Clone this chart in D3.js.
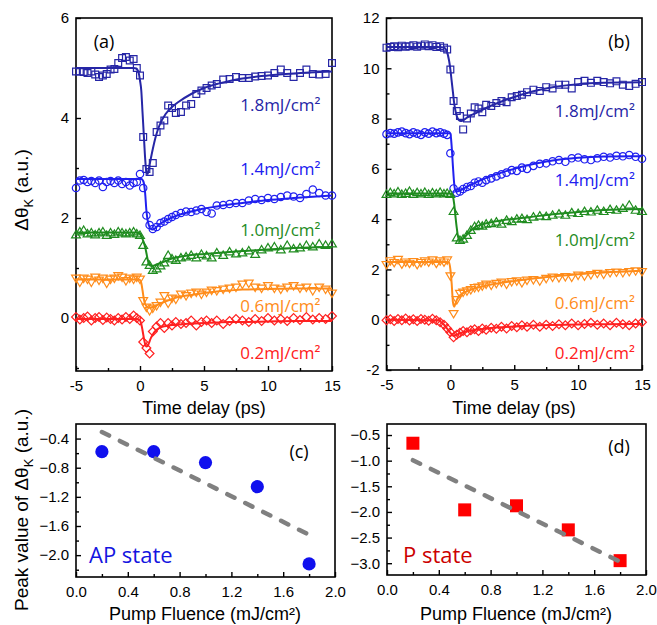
<!DOCTYPE html>
<html>
<head>
<meta charset="utf-8">
<script src="https://cdn.jsdelivr.net/npm/d3@7"></script>
<style>
  body { margin: 0; background: #fff; }
  svg { display: block; }
</style>
</head>
<body>
<script>
// time delay of the measured points (ps)
const timeDelay = [
  -5, -4.7, -4.4, -4.1, -3.8, -3.5, -3.2, -2.9, -2.6, -2.3,
  -2.0, -1.7, -1.4, -1.1, -0.8, -0.5, -0.25, 0, 0.25, 0.5,
  0.75, 1.0, 1.3, 1.6, 1.9, 2.2, 2.5, 2.8, 3.2, 3.6,
  4.0, 4.4, 4.8, 5.2, 5.6, 6.0, 6.5, 7.0, 7.5, 8.0,
  8.5, 9.0, 9.5, 10, 10.5, 11, 11.5, 12, 12.5, 13,
  13.5, 14, 14.5, 15];

// time delay of the fitted curves (ps)
const fitTime = [
  -5, -1, -0.5, -0.3, -0.1, 0, 0.1, 0.2, 0.3, 0.4,
  0.5, 0.6, 0.7, 0.8, 1.0, 1.2, 1.5, 2, 2.5, 3,
  4, 5, 6, 7, 8, 10, 12, 15];

const fluenceLabels = ["1.8mJ/cm²", "1.4mJ/cm²", "1.0mJ/cm²", "0.6mJ/cm²", "0.2mJ/cm²"];

// panel (a)
const a18 = [
  4.93, 4.93, 4.92, 4.90, 4.93, 4.87, 4.82, 4.85, 4.88, 4.97,
  4.98, 5.10, 5.20, 5.22, 5.15, 5.18, 5.00, 4.85, 3.62, 2.98,
  2.92, 3.10, 3.72, 3.85, 3.95, 4.25, 4.20, 4.10, 4.12, 4.25,
  4.28, 4.48, 4.55, 4.60, 4.65, 4.68, 4.77, 4.78, 4.82, 4.80,
  4.80, 4.83, 4.84, 4.85, 4.90, 4.97, 4.90, 4.82, 4.90, 4.97,
  4.88, 4.87, 4.88, 5.10];
const a14 = [
  2.60, 2.75, 2.76, 2.72, 2.74, 2.70, 2.75, 2.62, 2.72, 2.74,
  2.70, 2.75, 2.68, 2.72, 2.65, 2.70, 2.72, 2.88, 2.60, 2.05,
  1.86, 1.78, 1.82, 1.90, 1.93, 1.98, 2.02, 2.06, 2.10, 2.13,
  2.12, 2.15, 2.18, 2.12, 2.09, 2.25, 2.26, 2.28, 2.30, 2.30,
  2.35, 2.38, 2.36, 2.40, 2.38, 2.42, 2.45, 2.43, 2.40, 2.48,
  2.57, 2.50, 2.45, 2.45];
const a10 = [
  1.66, 1.72, 1.75, 1.68, 1.70, 1.66, 1.70, 1.72, 1.65, 1.70,
  1.67, 1.72, 1.70, 1.68, 1.70, 1.72, 1.68, 1.65, 1.45, 1.12,
  1.05, 0.95, 0.98, 1.04, 1.10, 1.25, 1.18, 1.15, 1.20, 1.22,
  1.25, 1.20, 1.27, 1.24, 1.20, 1.30, 1.25, 1.32, 1.28, 1.30,
  1.34, 1.27, 1.36, 1.40, 1.42, 1.36, 1.45, 1.38, 1.40, 1.45,
  1.42, 1.48, 1.45, 1.48];
const a06 = [
  0.80, 0.72, 0.80, 0.78, 0.72, 0.82, 0.76, 0.80, 0.70, 0.78,
  0.80, 0.85, 0.82, 0.75, 0.80, 0.78, 0.82, 0.78, 0.35, 0.22,
  0.15, 0.20, 0.25, 0.32, 0.45, 0.30, 0.40, 0.38, 0.48, 0.45,
  0.50, 0.52, 0.48, 0.52, 0.56, 0.55, 0.58, 0.60, 0.62, 0.68,
  0.70, 0.62, 0.60, 0.65, 0.60, 0.58, 0.62, 0.65, 0.60, 0.62,
  0.55, 0.62, 0.58, 0.50];
const a02 = [
  0.02, -0.03, 0.00, 0.03, -0.05, 0.00, 0.02, -0.04, 0.01, -0.02,
  -0.05, 0.00, -0.03, 0.02, -0.02, 0.05, 0.00, -0.05, -0.48, -0.60,
  -0.71, -0.27, -0.17, -0.10, -0.20, -0.10, -0.15, -0.08, -0.12, -0.10,
  -0.05, -0.15, -0.08, -0.05, -0.10, -0.05, -0.12, -0.06, -0.02, -0.05,
  -0.08, -0.02, -0.06, 0.00, -0.05, -0.02, -0.06, 0.00, -0.04, 0.02,
  -0.03, 0.00, -0.02, 0.04];

const aFit18 = [5.00, 5.00, 5.00, 4.99, 4.90, 4.75, 4.55, 4.10, 3.65, 3.20,
  2.92, 2.88, 3.00, 3.13, 3.38, 3.60, 3.84, 4.08, 4.22, 4.32,
  4.48, 4.60, 4.68, 4.74, 4.79, 4.85, 4.89, 4.93];
const aFit14 = [2.78, 2.78, 2.78, 2.78, 2.78, 2.78, 2.78, 2.76, 2.70, 2.50,
  2.15, 1.95, 1.85, 1.79, 1.77, 1.80, 1.87, 1.95, 2.01, 2.06,
  2.13, 2.19, 2.23, 2.27, 2.30, 2.36, 2.40, 2.45];
const aFit10 = [1.71, 1.71, 1.71, 1.71, 1.70, 1.69, 1.65, 1.58, 1.50, 1.42,
  1.30, 1.17, 1.08, 1.05, 1.04, 1.06, 1.09, 1.14, 1.19, 1.22,
  1.26, 1.28, 1.30, 1.32, 1.34, 1.37, 1.40, 1.42];
const aFit06 = [0.77, 0.77, 0.77, 0.77, 0.77, 0.76, 0.70, 0.55, 0.38, 0.28,
  0.24, 0.22, 0.21, 0.21, 0.22, 0.24, 0.28, 0.33, 0.38, 0.42,
  0.46, 0.50, 0.53, 0.55, 0.57, 0.58, 0.59, 0.59];
const aFit02 = [-0.02, -0.02, -0.02, -0.02, -0.03, -0.05, -0.12, -0.25, -0.40, -0.52,
  -0.57, -0.56, -0.50, -0.43, -0.33, -0.26, -0.20, -0.16, -0.14, -0.13,
  -0.11, -0.10, -0.09, -0.08, -0.08, -0.07, -0.06, -0.06];

// panel (b)
const b18 = [
  10.82, 10.85, 10.88, 10.84, 10.90, 10.86, 10.88, 10.92, 10.86, 10.90,
  10.95, 10.88, 10.92, 10.85, 10.88, 10.82, 10.75, 9.95, 8.70, 8.30,
  8.10, 7.57, 8.00, 8.20, 8.45, 8.40, 8.25, 8.55, 8.50, 8.62,
  8.70, 8.65, 8.85, 8.90, 8.95, 9.05, 9.15, 9.10, 9.25, 9.20,
  9.35, 9.35, 9.20, 9.45, 9.50, 9.42, 9.50, 9.45, 9.40, 9.48,
  9.35, 9.30, 9.38, 9.45];
const b14 = [
  7.38, 7.42, 7.40, 7.45, 7.48, 7.42, 7.38, 7.45, 7.40, 7.35,
  7.45, 7.40, 7.48, 7.42, 7.45, 7.40, 7.35, 6.62, 5.22, 5.05,
  5.10, 5.20, 5.28, 5.32, 5.45, 5.50, 5.45, 5.55, 5.62, 5.70,
  5.78, 5.85, 5.95, 5.92, 6.05, 6.00, 6.12, 6.20, 6.22, 6.30,
  6.35, 6.28, 6.42, 6.45, 6.38, 6.35, 6.42, 6.48, 6.45, 6.52,
  6.50, 6.55, 6.48, 6.40];
const b10 = [
  4.98, 5.05, 5.00, 5.08, 4.98, 5.02, 5.10, 4.98, 5.05, 5.00,
  5.06, 4.98, 5.04, 5.00, 5.06, 5.00, 5.02, 4.98, 4.30, 3.25,
  3.15, 3.20, 3.35, 3.55, 3.70, 3.75, 3.72, 3.80, 3.82, 3.88,
  3.80, 3.95, 3.90, 4.00, 4.02, 3.98, 4.08, 4.12, 4.10, 4.15,
  4.20, 4.15, 4.25, 4.22, 4.30, 4.28, 4.35, 4.30, 4.38, 4.35,
  4.42, 4.55, 4.35, 4.30];
const b06 = [
  2.20, 2.35, 2.28, 2.40, 2.22, 2.30, 2.25, 2.32, 2.20, 2.28,
  2.35, 2.30, 2.38, 2.25, 2.35, 2.30, 2.38, 1.75, 0.25, 0.80,
  1.05, 1.10, 1.15, 1.20, 1.28, 1.30, 1.35, 1.42, 1.38, 1.45,
  1.50, 1.42, 1.52, 1.55, 1.48, 1.58, 1.60, 1.55, 1.65, 1.70,
  1.68, 1.72, 1.70, 1.78, 1.75, 1.80, 1.85, 1.82, 1.88, 1.90,
  1.88, 1.92, 1.95, 1.92];
const b02 = [
  -0.02, 0.02, -0.05, 0.03, -0.02, 0.05, -0.03, 0.02, -0.05, 0.03,
  0.00, -0.04, 0.04, -0.02, -0.10, -0.20, -0.35, -0.50, -0.70, -0.60,
  -0.52, -0.45, -0.50, -0.42, -0.38, -0.45, -0.35, -0.40, -0.32, -0.36,
  -0.28, -0.35, -0.25, -0.30, -0.22, -0.28, -0.20, -0.28, -0.20, -0.25,
  -0.18, -0.22, -0.15, -0.22, -0.17, -0.12, -0.20, -0.15, -0.22, -0.12,
  -0.18, -0.22, -0.15, -0.10];

const bFit18 = [10.85, 10.85, 10.83, 10.70, 10.30, 9.95, 9.50, 9.05, 8.60, 8.30,
  8.10, 7.98, 7.92, 7.90, 7.93, 8.00, 8.10, 8.22, 8.35, 8.47,
  8.68, 8.86, 9.02, 9.15, 9.25, 9.37, 9.42, 9.44];
const bFit14 = [7.42, 7.42, 7.42, 7.42, 7.42, 7.40, 6.90, 6.10, 5.40, 5.12,
  5.10, 5.11, 5.13, 5.15, 5.20, 5.26, 5.34, 5.46, 5.57, 5.67,
  5.85, 6.00, 6.13, 6.24, 6.33, 6.44, 6.49, 6.50];
const bFit10 = [5.02, 5.02, 5.02, 5.02, 5.02, 5.02, 5.00, 4.90, 4.60, 4.10,
  3.65, 3.30, 3.18, 3.17, 3.22, 3.33, 3.50, 3.70, 3.80, 3.86,
  3.95, 4.01, 4.07, 4.13, 4.19, 4.28, 4.36, 4.40];
const bFit06 = [2.30, 2.30, 2.30, 2.30, 2.28, 2.00, 1.45, 0.70, 0.52, 0.65,
  0.78, 0.87, 0.94, 0.99, 1.06, 1.11, 1.17, 1.26, 1.32, 1.38,
  1.47, 1.54, 1.61, 1.67, 1.72, 1.81, 1.88, 1.95];
const bFit02 = [0.00, -0.02, -0.20, -0.32, -0.45, -0.52, -0.58, -0.63, -0.64, -0.62,
  -0.60, -0.57, -0.55, -0.53, -0.50, -0.47, -0.44, -0.40, -0.37, -0.34,
  -0.30, -0.27, -0.24, -0.22, -0.21, -0.19, -0.18, -0.17];

// panels (c) and (d): peak value vs pump fluence
const fluence = [0.2, 0.6, 1.0, 1.4, 1.8];
const peakAP = [-0.58, -0.58, -0.73, -1.06, -2.12];
const peakP = [-0.66, -1.96, -1.88, -2.35, -2.95];
const trendX = [0.2, 1.8];
const trendAP = [-0.31, -1.72];
const trendP = [-0.99, -2.97];

const width = 657;
const height = 625;

const svg = d3.select("body")
  .append("svg")
  .attr("width", width)
  .attr("height", height);

const tickFont = "'Liberation Sans', Arial, sans-serif";
const labelFont = "'Open Sans', sans-serif";

// colours of the five fluences (1.8 -> 0.2)
const colors = ["#2626a6", "#2020f0", "#1f8c1f", "#ff8c1a", "#ff2020"];
const shapes = ["square", "circle", "triangle", "invtriangle", "diamond"];

// open marker outlines
function shapePath(shape) {
  if (shape === "square") return "M-3.4,-3.4h6.8v6.8h-6.8Z";
  if (shape === "circle") return "M3.7,0A3.7,3.7 0 1,1 -3.7,0A3.7,3.7 0 1,1 3.7,0Z";
  if (shape === "triangle") return "M0,-4.5L4.4,2.9L-4.4,2.9Z";
  if (shape === "invtriangle") return "M0,4.5L4.4,-2.9L-4.4,-2.9Z";
  return "M0,-4.4L4.4,0L0,4.4L-4.4,0Z";
}

// frame + inward ticks for one panel
function makePanel(box, xDomain, yDomain, xTicks, xMinor, yTicks, yMinor, xFmt, yFmt) {
  const x = d3.scaleLinear().domain(xDomain).range([box.left, box.right]);
  const y = d3.scaleLinear().domain(yDomain).range([box.bottom, box.top]);
  const g = svg.append("g");

  // minor ticks
  g.append("g")
    .attr("transform", `translate(0,${box.bottom})`)
    .call(d3.axisBottom(x).tickValues(xMinor).tickSize(-3).tickFormat(""))
    .call(s => s.select(".domain").remove());
  g.append("g")
    .attr("transform", `translate(${box.left},0)`)
    .call(d3.axisLeft(y).tickValues(yMinor).tickSize(-3).tickFormat(""))
    .call(s => s.select(".domain").remove());

  // major ticks with labels
  g.append("g")
    .attr("transform", `translate(0,${box.bottom})`)
    .call(d3.axisBottom(x).tickValues(xTicks).tickSize(-5).tickPadding(9).tickFormat(xFmt))
    .call(s => s.select(".domain").remove());
  g.append("g")
    .attr("transform", `translate(${box.left},0)`)
    .call(d3.axisLeft(y).tickValues(yTicks).tickSize(-5).tickPadding(7).tickFormat(yFmt))
    .call(s => s.select(".domain").remove());

  g.selectAll(".tick line").attr("stroke", "#000").attr("stroke-width", 1.4);
  g.selectAll(".tick text")
    .attr("fill", "#000")
    .style("font-family", tickFont)
    .style("font-size", "15px");

  g.append("rect")
    .attr("x", box.left)
    .attr("y", box.top)
    .attr("width", box.right - box.left)
    .attr("height", box.bottom - box.top)
    .attr("fill", "none")
    .attr("stroke", "#000")
    .attr("stroke-width", 1.6);

  return { x, y, g };
}

const dash = v => (v < 0 ? "-" : "") + d3.format("d")(Math.abs(v));

// draw markers and fitted curve of one fluence
function drawTrace(p, marks, fit, i, labelPos) {
  const layer = svg.append("g");
  layer.selectAll("path.mark")
    .data(timeDelay.map((t, k) => [t, marks[k]]))
    .enter()
    .append("path")
    .attr("class", "mark")
    .attr("transform", d => `translate(${p.x(d[0])},${p.y(d[1])})`)
    .attr("d", shapePath(shapes[i]))
    .attr("fill", "none")
    .attr("stroke", colors[i])
    .attr("stroke-width", 1.2);

  const line = d3.line()
    .x(d => p.x(d[0]))
    .y(d => p.y(d[1]))
    .curve(d3.curveMonotoneX);

  layer.append("path")
    .datum(fitTime.map((t, k) => [t, fit[k]]))
    .attr("d", line)
    .attr("fill", "none")
    .attr("stroke", colors[i])
    .attr("stroke-width", 2);

  layer.append("text")
    .attr("x", p.x(labelPos[0]))
    .attr("y", p.y(labelPos[1]))
    .attr("dy", "0.35em")
    .attr("text-anchor", "end")
    .attr("fill", colors[i])
    .style("font-family", labelFont)
    .style("font-size", "17px")
    .text(fluenceLabels[i]);
}

// ---- panel (a)
const pa = makePanel({ left: 76, right: 332, top: 18, bottom: 371 },
  [-5, 15], [-1.06, 6],
  [-5, 0, 5, 10, 15], [-2.5, 2.5, 7.5, 12.5],
  [0, 2, 4, 6], [-1, 1, 3, 5], dash, dash);

const aSeries = [[a18, aFit18], [a14, aFit14], [a10, aFit10], [a06, aFit06], [a02, aFit02]];
const aLabelY = [4.26, 2.98, 1.76, 0.23, -0.7];
aSeries.forEach((s, i) => drawTrace(pa, s[0], s[1], i, [14.1, aLabelY[i]]));

// ---- panel (b)
const pb = makePanel({ left: 386.5, right: 642, top: 18, bottom: 370 },
  [-5, 15], [-2, 12],
  [-5, 0, 5, 10, 15], [-2.5, 2.5, 7.5, 12.5],
  [-2, 0, 2, 4, 6, 8, 10, 12], [-1, 1, 3, 5, 7, 9, 11], dash, dash);

const bSeries = [[b18, bFit18], [b14, bFit14], [b10, bFit10], [b06, bFit06], [b02, bFit02]];
const bLabelY = [8.28, 5.56, 3.17, 0.67, -1.32];
bSeries.forEach((s, i) => drawTrace(pb, s[0], s[1], i, [14.45, bLabelY[i]]));

// ---- panel (c)
const fmt1 = d3.format(".1f");
const pc = makePanel({ left: 76, right: 335, top: 424, bottom: 577 },
  [0, 2], [-2.3, -0.2],
  [0, 0.4, 0.8, 1.2, 1.6, 2.0], [0.2, 0.6, 1.0, 1.4, 1.8],
  [-2.0, -1.6, -1.2, -0.8, -0.4], [-2.2, -1.8, -1.4, -1.0, -0.6],
  fmt1, fmt1);

// ---- panel (d)
const pd = makePanel({ left: 387, right: 646, top: 424, bottom: 575 },
  [0, 2], [-3.23, -0.285],
  [0, 0.4, 0.8, 1.2, 1.6, 2.0], [0.2, 0.6, 1.0, 1.4, 1.8],
  [-3.0, -2.5, -2.0, -1.5, -1.0, -0.5], [-2.75, -2.25, -1.75, -1.25, -0.75],
  fmt1, fmt1);

// dashed linear trends
function drawTrend(p, ys) {
  svg.append("path")
    .datum(trendX.map((v, k) => [v, ys[k]]))
    .attr("d", d3.line().x(d => p.x(d[0])).y(d => p.y(d[1])))
    .attr("fill", "none")
    .attr("stroke", "#808080")
    .attr("stroke-width", 4.5)
    .attr("stroke-linecap", "round")
    .attr("stroke-dasharray", "8,12");
}

svg.append("g").selectAll("circle")
  .data(fluence.map((f, k) => [f, peakAP[k]]))
  .enter()
  .append("circle")
  .attr("cx", d => pc.x(d[0]))
  .attr("cy", d => pc.y(d[1]))
  .attr("r", 6.6)
  .attr("fill", "#1010ee");
drawTrend(pc, trendAP);

svg.append("g").selectAll("rect")
  .data(fluence.map((f, k) => [f, peakP[k]]))
  .enter()
  .append("rect")
  .attr("x", d => pd.x(d[0]) - 6.5)
  .attr("y", d => pd.y(d[1]) - 6.5)
  .attr("width", 13)
  .attr("height", 13)
  .attr("fill", "#ff0000");
drawTrend(pd, trendP);

// ---- panel letters and state labels
const letters = [["(a)", 104, 42], ["(b)", 619, 42], ["(c)", 299, 452], ["(d)", 619, 447]];
svg.selectAll("text.letter")
  .data(letters)
  .enter()
  .append("text")
  .attr("class", "letter")
  .attr("x", d => d[1])
  .attr("y", d => d[2])
  .attr("dy", "0.35em")
  .attr("text-anchor", "middle")
  .style("font-family", labelFont)
  .style("font-size", "18px")
  .text(d => d[0]);

svg.append("text")
  .attr("x", 89).attr("y", 555).attr("dy", "0.35em")
  .attr("fill", "#1414e0")
  .style("font-family", labelFont).style("font-size", "22px")
  .text("AP state");

svg.append("text")
  .attr("x", 403).attr("y", 555).attr("dy", "0.35em")
  .attr("fill", "#cc0000")
  .style("font-family", labelFont).style("font-size", "22px")
  .text("P state");

// ---- axis titles
function axisTitle(x, y, txt) {
  svg.append("text")
    .attr("x", x).attr("y", y)
    .attr("text-anchor", "middle")
    .style("font-family", tickFont)
    .style("font-size", "18px")
    .text(txt);
}
axisTitle(204, 414, "Time delay (ps)");
axisTitle(514, 414, "Time delay (ps)");
axisTitle(205, 620, "Pump Fluence (mJ/cm²)");
axisTitle(516, 620, "Pump Fluence (mJ/cm²)");

function yTitle(x, y, before) {
  const t = svg.append("text")
    .attr("transform", `translate(${x},${y}) rotate(-90)`)
    .attr("text-anchor", "middle")
    .style("font-family", tickFont)
    .style("font-size", "19px");
  t.append("tspan").text(before + "Δθ");
  t.append("tspan").attr("dy", 5).style("font-size", "13px").text("K");
  t.append("tspan").attr("dy", -5).text(" (a.u.)");
}
yTitle(28, 190, "");
yTitle(28, 510, "Peak value of ");
</script>
</body>
</html>
